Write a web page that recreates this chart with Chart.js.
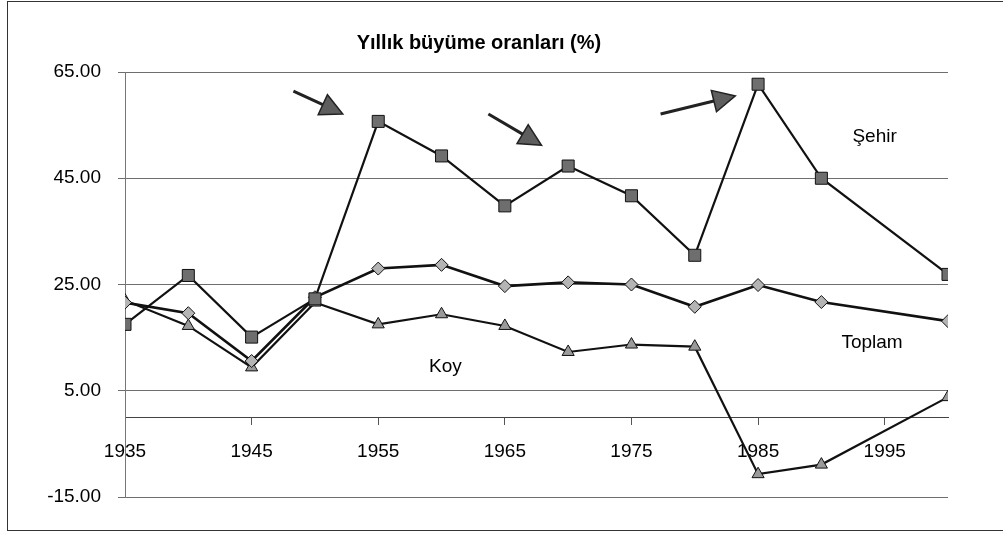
<!DOCTYPE html>
<html>
<head>
<meta charset="utf-8">
<script src="https://cdn.jsdelivr.net/npm/chart.js@4.4.0/dist/chart.umd.min.js"></script>
<style>
  body { margin: 0; background: #fff; }
  #wrap { position: relative; width: 1003px; height: 533px; overflow: hidden; }
  #frame { position: absolute; left: 7px; top: 1px; width: 1000px; height: 528px; border: 1px solid #333; border-right: none; pointer-events: none; }
</style>
</head>
<body>
<div id="wrap">
  <canvas id="growth" width="1003" height="533"></canvas>
  <div id="frame"></div>
</div>
<script>
const years  = [1935, 1940, 1945, 1950, 1955, 1960, 1965, 1970, 1975, 1980, 1985, 1990, 2000];
const sehir  = [17.5, 26.7, 15.1, 22.3, 55.7, 49.2, 39.8, 47.3, 41.7, 30.5, 62.7, 45.0, 26.9];
const toplam = [21.6, 19.6, 10.6, 22.6, 28.0, 28.7, 24.7, 25.4, 25.0, 20.8, 24.9, 21.7, 18.1];
const koy    = [22.0, 17.2, 9.4, 21.6, 17.5, 19.4, 17.2, 12.3, 13.7, 13.3, -10.7, -8.9, 3.8];
const xTicks = [1935, 1945, 1955, 1965, 1975, 1985, 1995];
const yTicks = [-15, 5, 25, 45, 65];
const titleText = 'Yıllık büyüme oranları (%)';
const seriesNames = ['Şehir', 'Toplam', 'Koy'];

Chart.defaults.font.family = "'Liberation Sans', Arial, sans-serif";
Chart.defaults.color = '#000';

function points(values) {
    return years.map((yr, i) => ({ x: yr, y: values[i] }));
}

// text labels and the three arrows, placed in data units
const notes = {
    labels: [
        { text: seriesNames[0], x: 1994.2, y: 52.9 },
        { text: seriesNames[1], x: 1994.0, y: 14.1 },
        { text: seriesNames[2], x: 1960.3, y: 9.6 }
    ],
    arrows: [
        { from: [1948.3, 61.4], to: [1952.2, 57.1] },
        { from: [1963.7, 57.1], to: [1967.9, 51.2] },
        { from: [1977.3, 57.1], to: [1983.2, 60.5] }
    ]
};

const decorations = {
    id: 'decorations',
    afterDraw(chart) {
        const ctx = chart.ctx;
        const sx = chart.scales.x, sy = chart.scales.y;
        const area = chart.chartArea;
        ctx.save();
        // title
        ctx.font = "bold 20px 'Liberation Sans', Arial, sans-serif";
        ctx.fillStyle = '#000';
        ctx.textAlign = 'center';
        ctx.textBaseline = 'middle';
        ctx.fillText(titleText, area.left + 0.43 * (area.right - area.left), area.top - 29);

        ctx.font = "19px 'Liberation Sans', Arial, sans-serif";
        notes.labels.forEach(l => {
            ctx.fillText(l.text, sx.getPixelForValue(l.x), sy.getPixelForValue(l.y));
        });

        notes.arrows.forEach(a => {
            const x0 = sx.getPixelForValue(a.from[0]), y0 = sy.getPixelForValue(a.from[1]);
            const x1 = sx.getPixelForValue(a.to[0]), y1 = sy.getPixelForValue(a.to[1]);
            const len = Math.hypot(x1 - x0, y1 - y0);
            const ux = (x1 - x0) / len, uy = (y1 - y0) / len;
            const head = 22, half = 11;
            const bx = x1 - ux * head, by = y1 - uy * head;
            ctx.strokeStyle = '#222';
            ctx.lineWidth = 3;
            ctx.beginPath();
            ctx.moveTo(x0, y0);
            ctx.lineTo(bx, by);
            ctx.stroke();
            ctx.beginPath();
            ctx.moveTo(x1, y1);
            ctx.lineTo(bx - uy * half, by + ux * half);
            ctx.lineTo(bx + uy * half, by - ux * half);
            ctx.closePath();
            ctx.fillStyle = '#5e5e5e';
            ctx.fill();
            ctx.lineWidth = 1.5;
            ctx.stroke();
        });
        ctx.restore();
    }
};

new Chart(document.getElementById('growth'), {
    type: 'line',
    data: {
        datasets: [
            {
                label: seriesNames[0],
                data: points(sehir),
                borderColor: '#111',
                borderWidth: 2.2,
                pointStyle: 'rect',
                pointRadius: 8.5,
                pointBackgroundColor: '#6e6e6e',
                pointBorderColor: '#111',
                pointBorderWidth: 1
            },
            {
                label: seriesNames[1],
                data: points(toplam),
                borderColor: '#111',
                borderWidth: 2.6,
                pointStyle: 'rectRot',
                pointRadius: 6.5,
                pointBackgroundColor: '#b4b4b4',
                pointBorderColor: '#111',
                pointBorderWidth: 1
            },
            {
                label: seriesNames[2],
                data: points(koy),
                borderColor: '#111',
                borderWidth: 2.2,
                pointStyle: 'triangle',
                pointRadius: 7,
                pointBackgroundColor: '#9a9a9a',
                pointBorderColor: '#111',
                pointBorderWidth: 1
            }
        ]
    },
    options: {
        responsive: false,
        animation: false,
        layout: { padding: { top: 72, right: 55, bottom: 36, left: 0 } },
        elements: { line: { tension: 0 } },
        plugins: {
            legend: { display: false },
            tooltip: { enabled: false },
            title: { display: false }
        },
        scales: {
            x: {
                type: 'linear',
                min: 1935,
                max: 2000,
                position: { y: 0 },
                afterBuildTicks: s => { s.ticks = xTicks.map(v => ({ value: v })); },
                ticks: {
                    callback: v => String(v),
                    font: { size: 19 },
                    padding: 16,
                    maxRotation: 0,
                    autoSkip: false
                },
                grid: { drawOnChartArea: false, drawTicks: true, tickLength: 7, color: '#555' },
                border: { display: true, color: '#444', width: 1 }
            },
            y: {
                min: -15,
                max: 65,
                afterBuildTicks: s => { s.ticks = yTicks.map(v => ({ value: v })); },
                afterFit: s => { s.width = 125; },
                ticks: {
                    callback: v => Number(v).toFixed(2),
                    font: { size: 19 },
                    padding: 17
                },
                grid: { color: '#6e6e6e', tickLength: 7 },
                border: { display: true, color: '#777' }
            }
        }
    },
    plugins: [decorations]
});
</script>
</body>
</html>
